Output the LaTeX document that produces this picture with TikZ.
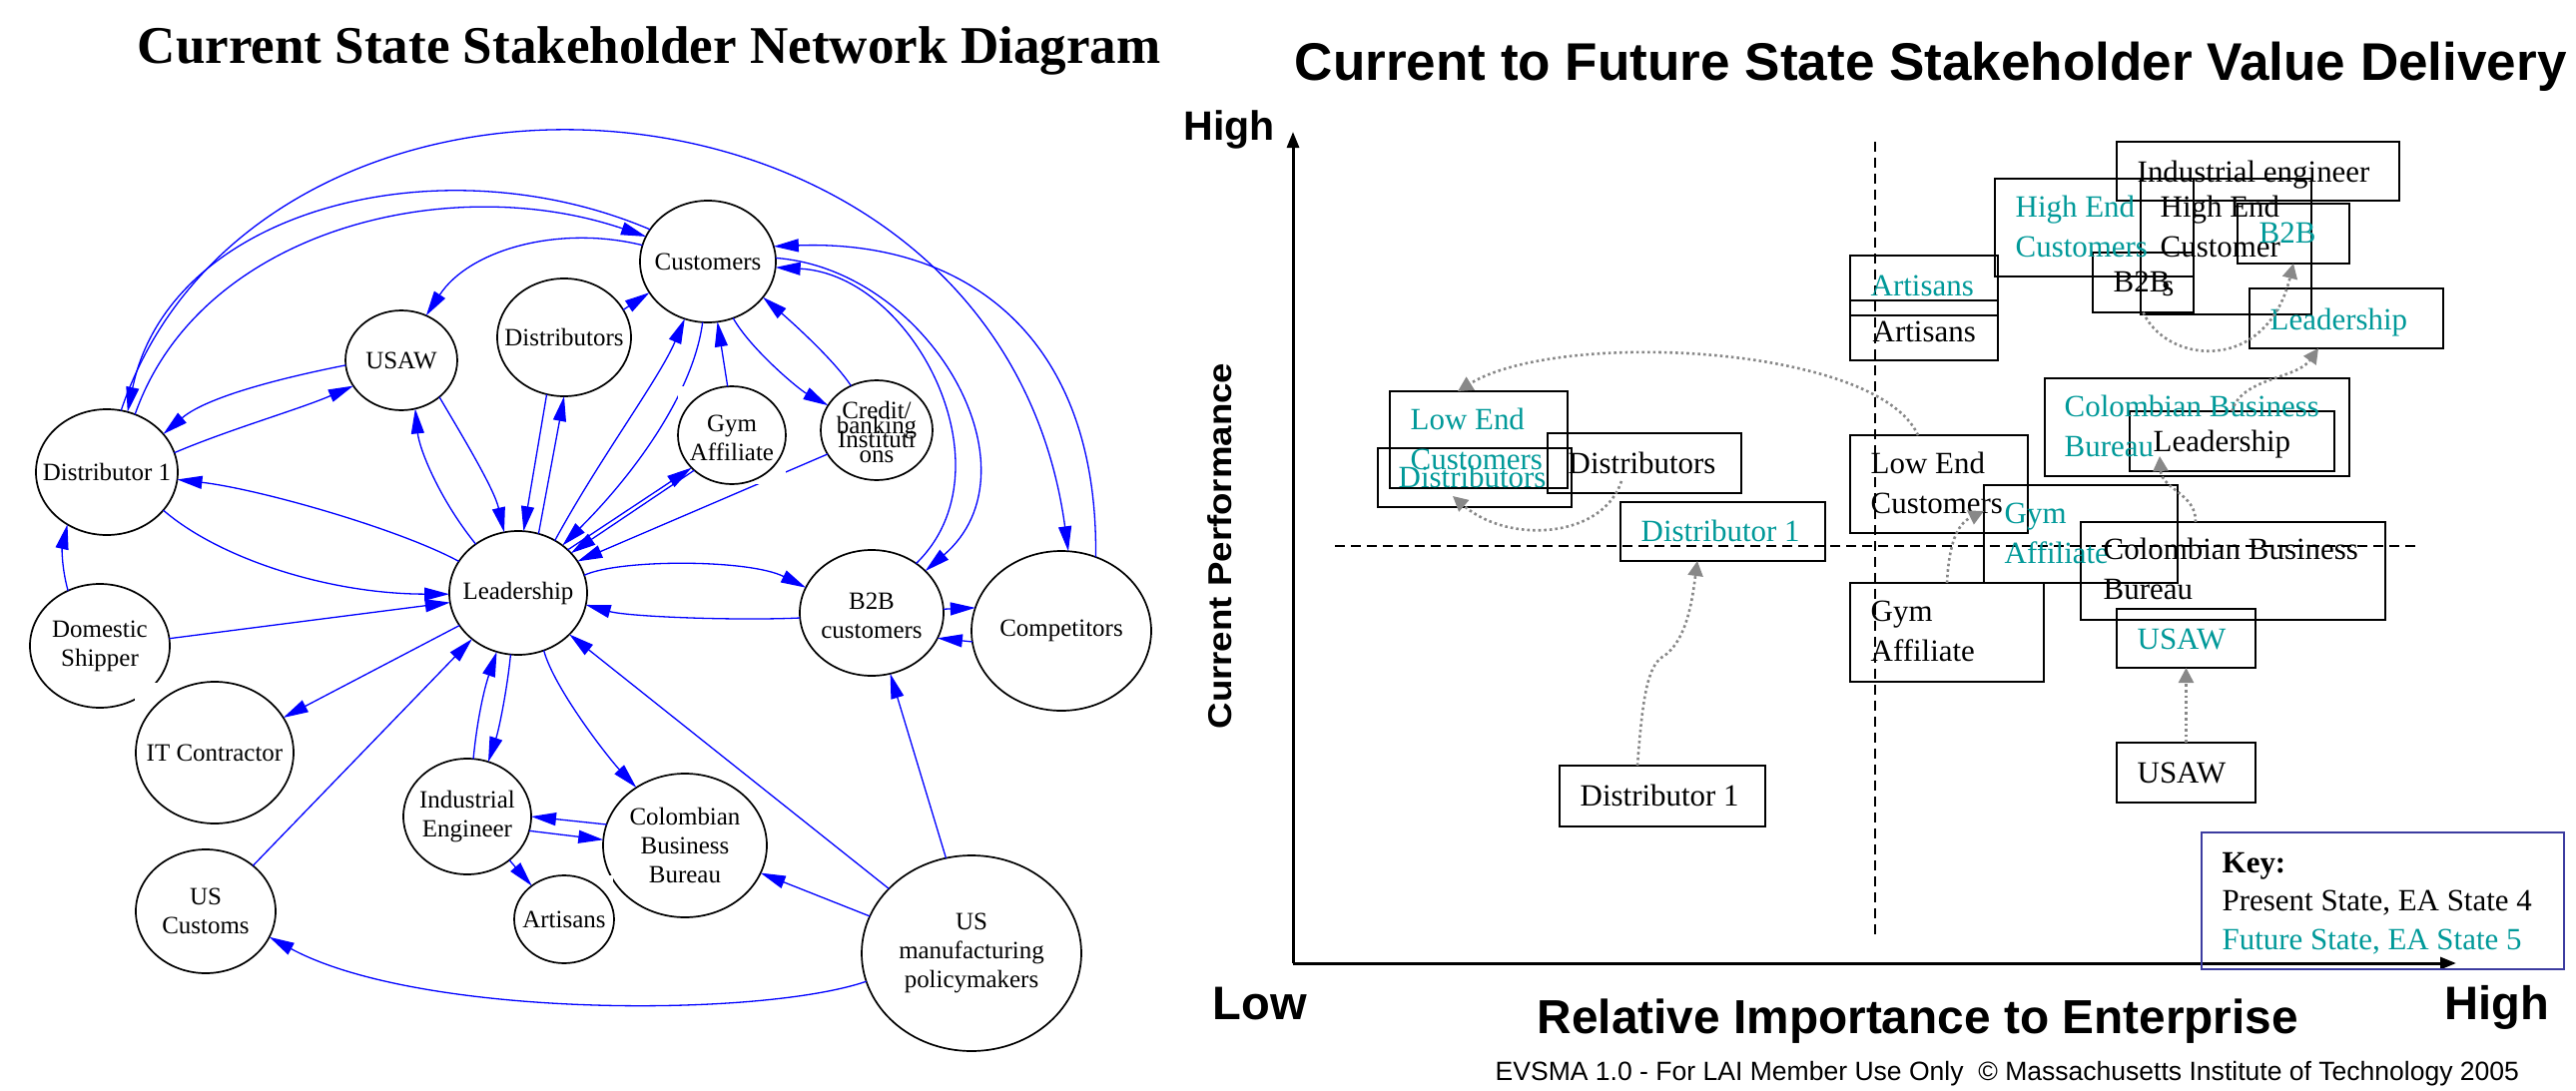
\documentclass[tikz,border=0pt]{standalone}
\usepackage{fontspec}
\setmainfont{Liberation Serif}
\setsansfont{Liberation Sans}
\usetikzlibrary{shapes.geometric,arrows.meta}
\definecolor{teal2}{RGB}{0,153,153}
\definecolor{keyblue}{RGB}{60,60,160}
\definecolor{dotgray}{RGB}{136,136,136}
\begin{document}
\begin{tikzpicture}[x=0.1mm,y=-0.1mm,
  ell/.style={draw, ellipse, line width=0.17mm, inner sep=0pt, outer sep=0pt},
  ltxt/.style={font=\fontsize{7.1pt}{8.25pt}\selectfont, align=center, inner sep=0pt},
  bl/.style={blue, line width=0.13mm, -{Triangle[length=2.5mm,width=1.3mm]}},
  bx/.style={draw, line width=0.27mm, anchor=north west, inner sep=0pt, outer sep=0pt},
  btxt/.style={font=\fontsize{8.8pt}{11.1pt}\selectfont, anchor=base west, inner sep=0pt, align=left},
  ttxt/.style={btxt, text=teal2},
  dt/.style={dotgray, line width=0.26mm, dash pattern=on 0.26mm off 0.3mm, -{Triangle[length=1.5mm,width=1.5mm]}},
  dsh/.style={line width=0.2mm, dash pattern=on 1mm off 0.6mm},
  ax/.style={line width=0.3mm, -{Triangle[length=1.6mm,width=1.2mm]}}
]
\useasboundingbox (0,0) rectangle (2580,1093);
\fill[white] (0,0) rectangle (2580,1093);

% ---------------- left: titles
\node[anchor=base west, inner sep=0pt, font=\fontsize{15.1pt}{18pt}\selectfont\bfseries] (ltitle) at (137,64) {Current State Stakeholder Network Diagram};

% ---------------- left: ellipse nodes
\node[ell, minimum width=13.6mm, minimum height=12.2mm] (Cu) at (709,262) {};
\node[ltxt] (CuL) at (Cu) {Customers};
\node[ell, minimum width=13.4mm, minimum height=11.8mm] (Ds) at (565,338) {};
\node[ltxt] (DsL) at (Ds) {Distributors};
\node[ell, minimum width=11.2mm, minimum height=10mm] (Us) at (402,361) {};
\node[ltxt] (UsL) at (Us) {USAW};
\node[ell, minimum width=11.2mm, minimum height=10mm] (Cr) at (878,431) {};
\node[ltxt, font={\fontsize{7.1pt}{4.1pt}\selectfont\lineskiplimit=-100pt}] (CrL) at (878,433) {Credit/\\banking\\Instituti\\ons};
\node[ell, minimum width=14.2mm, minimum height=12.6mm] (D1) at (107,473) {};
\node[ltxt] (D1L) at (D1) {Distributor 1};
\node[ell, minimum width=13.8mm, minimum height=12.4mm] (Le) at (519,594) {};
\node[ltxt] (LeL) at (Le) {Leadership};
\node[ell, minimum width=14.4mm, minimum height=12.6mm] (B2) at (873,614) {};
\node[ltxt] (B2L) at (873,617) {B2B\\customers};
\node[ell, minimum width=18mm, minimum height=16mm] (Co) at (1063,632) {};
\node[ltxt] (CoL) at (Co) {Competitors};
\node[ell, minimum width=14mm, minimum height=12.4mm] (DS) at (100,647) {};
\node[ltxt] (DSL) at (DS) {Domestic\\Shipper};
\node[ell, minimum width=12.8mm, minimum height=11.6mm] (IE) at (468,818) {};
\node[ltxt] (IEL) at (IE) {Industrial\\Engineer};
\node[ell, minimum width=16.4mm, minimum height=14.4mm] (CB) at (686,847) {};
\node[ltxt] (CBL) at (CB) {Colombian\\Business\\Bureau};
\node[ell, minimum width=14mm, minimum height=12.4mm] (UC) at (206,913) {};
\node[ltxt] (UCL) at (UC) {US\\Customs};
\node[ell, minimum width=22mm, minimum height=19.6mm] (UM) at (973,955) {};
\node[ltxt] (UML) at (UM) {US\\manufacturing\\policymakers};

% ---------------- left: edges
\draw[bl] (D1.77) .. controls (260,0) and (1000,40) .. (Co.85);
\draw[bl] (Cu.151) .. controls (440,140) and (170,210) .. (D1.71);
\draw[bl] (D1.64) .. controls (200,230) and (450,170) .. (Cu.158);
\draw[bl] (Cu.166) .. controls (560,225) and (470,250) .. (Us.61);
\draw[bl] (Us.185) .. controls (300,375) and (210,395) .. (D1.34);
\draw[bl] (D1.16) .. controls (230,430) and (300,410) .. (Us.208);
\draw[bl] (Ds.25) -- (Cu.208);
\draw[bl] (Le.71) -- (Ds.270);
\draw[bl] (Ds.253) -- (Le.85);
\draw[bl] (Le.131) .. controls (440,500) and (420,450) .. (Us.286);
\draw[bl] (Us.316) .. controls (465,440) and (495,490) .. (Le.103);
\draw[bl] (Le.55) .. controls (600,460) and (660,380) .. (Cu.248);
\draw[bl] (Cu.265) .. controls (695,390) and (640,470) .. (Le.47);
\draw[bl] (Cu.294) .. controls (752,350) and (800,390) .. (Cr.153);
\draw[bl] (Cr.120) .. controls (835,360) and (790,320) .. (Cu.327);
\draw[bl] (Cr.206) -- (Le.28);
\draw[bl] (Le.152) .. controls (400,530) and (260,490) .. (D1.354);
\draw[bl] (D1.326) .. controls (220,560) and (330,595) .. (Le.181);
\draw[bl] (DS.120) .. controls (62,570) and (62,550) .. (D1.233);
\draw[bl] (DS.6) -- (Le.188);
\draw[bl] (UC.44) -- (Le.225);
\draw[bl] (IE.84) .. controls (478,720) and (485,690) .. (Le.250);
\draw[bl] (Le.263) .. controls (508,690) and (500,730) .. (IE.69);
\draw[bl] (Le.294) .. controls (555,690) and (610,760) .. (CB.130);
\draw[bl] (CB.165) -- (IE.0);
\draw[bl] (IE.347) -- (CB.176);
\draw[bl] (UM.142) -- (Le.321);
\draw[bl] (UM.160) -- (CB.340);
\draw[bl] (UM.195) .. controls (760,1020) and (420,1020) .. (UC.338);
\draw[bl] (UM.105) -- (B2.287);
\draw[bl] (Le.15) .. controls (620,560) and (750,560) .. (B2.159);
\draw[bl] (B2.184) .. controls (740,622) and (630,618) .. (Le.350);
\draw[bl] (B2.3) -- (Co.165);
\draw[bl] (Co.187) -- (B2.339);
\draw[bl] (Cu.3) .. controls (930,270) and (1045,470) .. (B2.38);
\draw[bl] (B2.48) .. controls (1015,470) and (915,275) .. (Cu.355);
\draw[bl] (Co.65) .. controls (1100,330) and (960,240) .. (Cu.13);

% white label boxes that hide what lies under them
\fill[white] (679,387) rectangle (787,485);
\fill[white] (135,684) rectangle (294,825);
\fill[white] (515,877) rectangle (614,965);

\node[ell, minimum width=10.8mm, minimum height=9.8mm] (Gy) at (733,436) {};
\node[ltxt] (GyL) at (733,439) {Gym\\Affiliate};
\node[ell, minimum width=15.8mm, minimum height=14.2mm] (IT) at (215,754) {};
\node[ltxt] (ITL) at (IT) {IT Contractor};
\node[ell, minimum width=10mm, minimum height=8.8mm] (Ar) at (565,921) {};
\node[ltxt] (ArL) at (Ar) {Artisans};

\draw[bl] (Gy.95) -- (Cu.279);
\draw[bl] (Le.41) -- (Gy.219);
\draw[bl] (Gy.223) -- (Le.37);
\draw[bl] (Le.209) -- (IT.27);
\draw[bl] (IE.314) -- (Ar.134);

% ---------------- right: titles and axes
\node[anchor=base west, inner sep=0pt, font=\fontsize{15.1pt}{18pt}\selectfont\sffamily\bfseries] (rtitle) at (1296,80) {Current to Future State Stakeholder Value Delivery};
\node[anchor=base west, inner sep=0pt, font=\fontsize{11.7pt}{14pt}\selectfont\sffamily\bfseries] (yhigh) at (1185,141) {High};
\node[anchor=base west, inner sep=0pt, font=\fontsize{13.4pt}{16pt}\selectfont\sffamily\bfseries] (xlow) at (1214,1021) {Low};
\node[anchor=base west, inner sep=0pt, font=\fontsize{13.4pt}{16pt}\selectfont\sffamily\bfseries] (xhigh) at (2448,1021) {High};
\node[anchor=base west, inner sep=0pt, font=\fontsize{13.6pt}{16pt}\selectfont\sffamily\bfseries] (xlab) at (1539,1035) {Relative Importance to Enterprise};
\node[anchor=base, rotate=90, inner sep=0pt, font=\fontsize{9.4pt}{11pt}\selectfont\sffamily\bfseries] (ylab) at (1233,547) {\scalebox{1.11}[1]{Current Performance}};
\node[anchor=base west, inner sep=0pt, font=\fontsize{7.55pt}{8pt}\selectfont\sffamily] (foot) at (1497,1082) {EVSMA 1.0 - For LAI Member Use Only \ \textcopyright\ Massachusetts Institute of Technology 2005};

\draw[dsh] (1878,142) -- (1878,941);
\draw[dsh] (1337,547) -- (2424,547);
\coordinate (O) at (1295,965);
\draw[ax] (O) -- (1295,132);
\draw[ax] (O) -- (2460,965);

% ---------------- right: boxes
\node[bx, minimum width=28.3mm, minimum height=5.9mm] (IEb) at (2120,142) {};
\node[bx, minimum width=19.9mm, minimum height=9.8mm] (HECt) at (1998,179) {};
\node[bx, minimum width=17.1mm, minimum height=13.6mm] (HECb) at (2144,179) {};
\node[bx, minimum width=10.1mm, minimum height=6mm] (B2b) at (2096,253) {};
\node[bx, minimum width=11.2mm, minimum height=6mm] (B2t) at (2241,204) {};
\node[bx, minimum width=19.4mm, minimum height=6mm] (Let) at (2253,289) {};
\node[bx, minimum width=14.8mm, minimum height=6mm] (Art) at (1853,256) {};
\node[bx, minimum width=14.8mm, minimum height=6mm] (Arb) at (1853,301) {};
\node[bx, minimum width=17.8mm, minimum height=9.7mm] (LECt) at (1392,392) {};
\node[bx, minimum width=19.4mm, minimum height=5.9mm] (Dst) at (1380,449) {};
\node[bx, minimum width=19.4mm, minimum height=6mm] (Dsb) at (1550,434) {};
\node[bx, minimum width=20.5mm, minimum height=5.9mm] (D1t) at (1623,503) {};
\node[bx, minimum width=17.8mm, minimum height=9.8mm] (LECb) at (1853,436) {};
\node[bx, minimum width=19.4mm, minimum height=9.8mm] (Gyt) at (1987,486) {};
\node[bx, minimum width=30.5mm, minimum height=9.8mm] (CBb) at (2084,523) {};
\node[bx, minimum width=20.5mm, minimum height=6mm] (Leb) at (2133,412) {};
\node[bx, minimum width=30.5mm, minimum height=9.8mm] (CBt) at (2048,379) {};
\node[bx, minimum width=19.4mm, minimum height=9.9mm] (Gyb) at (1853,584) {};
\node[bx, minimum width=13.9mm, minimum height=5.9mm] (USt) at (2120,610) {};
\node[bx, minimum width=13.9mm, minimum height=6mm] (USb) at (2120,744) {};
\node[bx, minimum width=20.6mm, minimum height=6.1mm] (D1b) at (1562,767) {};
\node[bx, draw=keyblue, line width=0.2mm, minimum width=36.3mm, minimum height=13.7mm] (Key) at (2205,834) {};

% ---------------- right: texts (two-line texts: base = last line)
\node[btxt] (IEbT) at (2140,182) {Industrial engineer};
\node[ttxt] (HECtT) at (2018,257) {High End\\Customers};
\node[btxt] (HECbT) at (2163,257) {High End\\Customer};
\node[btxt] (B2bT) at (2116,292) {B2B\kern-0.26em\raisebox{-0.16em}{s}};
\node[ttxt] (B2tT) at (2262,243) {B2B};
\node[ttxt] (LetT) at (2273,330) {Leadership};
\node[ttxt] (ArtT) at (1873,296) {Artisans};
\node[btxt] (ArbT) at (1875,342) {Artisans};
\node[ttxt] (LECtT) at (1412,470) {Low End\\Customers};
\node[ttxt] (DstT) at (1400,488) {Distributors};
\node[btxt] (DsbT) at (1570,474) {Distributors};
\node[ttxt] (D1tT) at (1643,542) {Distributor 1};
\node[btxt] (LECbT) at (1873,514) {Low End\\Customers};
\node[ttxt] (GytT) at (2007,564) {Gym\\Affiliate};
\node[btxt] (CBbT) at (2106,600) {Colombian Business\\Bureau};
\node[btxt] (LebT) at (2156,452) {Leadership};
\node[ttxt] (CBtT) at (2067,457) {Colombian Business\\Bureau};
\node[btxt] (GybT) at (1873,662) {Gym\\Affiliate};
\node[ttxt] (UStT) at (2140,650) {USAW};
\node[btxt] (USbT) at (2140,784) {USAW};
\node[btxt] (D1bT) at (1582,807) {Distributor 1};
\node[btxt] (KeyT1) at (2225,874) {\textbf{Key:}};
\node[btxt] (KeyT2) at (2225,912) {Present State, EA State 4};
\node[ttxt] (KeyT3) at (2225,951) {Future State, EA State 5};

% ---------------- right: dotted arrows
\draw[dt] ([xshift=-2.5mm]D1b.north) .. controls (1645,700) and (1650,665) .. (1667,657) .. controls (1690,640) and (1695,600) .. ([xshift=-2.55mm]D1t.south);
\draw[dt] ([xshift=-2.3mm,yshift=1.2mm]Dsb.south) .. controls (1605,540) and (1510,545) .. ([xshift=-2.2mm,yshift=1.1mm]Dst.south);
\draw[dt] ([xshift=-2.1mm]LECb.north) .. controls (1880,345) and (1560,330) .. ([xshift=-2.1mm]LECt.north);
\draw[dt] (Gyb.north) .. controls (1952,545) and (1960,525) .. ([yshift=2.3mm]Gyt.west);
\draw[dt] ([xshift=-3.75mm]CBb.north) .. controls (2200,495) and (2165,490) .. ([xshift=-3.75mm,yshift=2mm]CBt.south);
\draw[dt] (Leb.north) .. controls (2245,378) and (2300,380) .. ([xshift=-2.8mm]Let.south);
\draw[dt] (B2b.south) .. controls (2170,365) and (2270,375) .. (B2t.south);
\draw[dt] (USb.north) -- (USt.south);
\end{tikzpicture}
\end{document}
